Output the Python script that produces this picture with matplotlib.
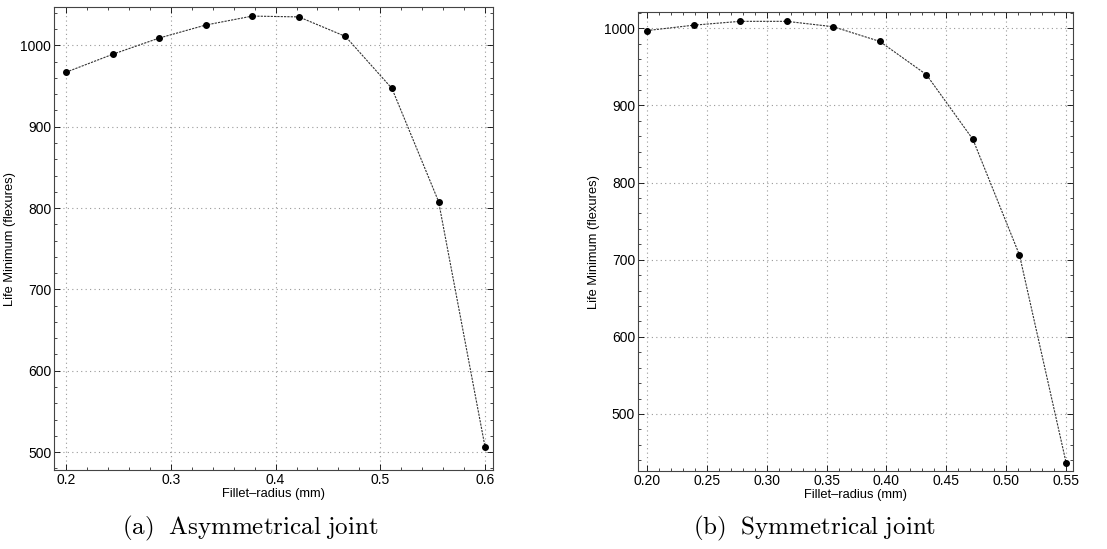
import matplotlib
matplotlib.use("Agg")
import matplotlib.pyplot as plt
from matplotlib.ticker import MultipleLocator, FormatStrFormatter

# Asymmetrical joint
radius_a = [0.2, 0.2444, 0.2889, 0.3333, 0.3778, 0.4222, 0.4667, 0.5111, 0.5556, 0.6]
life_a = [967, 989, 1009, 1025, 1036, 1035, 1011, 947, 808, 506]

# Symmetrical joint
radius_b = [0.2, 0.2389, 0.2778, 0.3167, 0.3556, 0.3944, 0.4333, 0.4722, 0.5111, 0.55]
life_b = [997, 1004, 1009, 1009, 1002, 983, 940, 856, 706, 437]

plt.rcParams['font.family'] = ['Liberation Sans', 'DejaVu Sans']
plt.rcParams['mathtext.fontset'] = 'cm'

fig = plt.figure(figsize=(11.07, 5.49), dpi=100)
ax1 = fig.add_axes([0.0488, 0.1439, 0.3966, 0.8431])
ax2 = fig.add_axes([0.5763, 0.142, 0.393, 0.836])


def style(ax, x, y, xlim, ylim, xmaj, xmin, fmt):
    ax.plot(x, y, color="#333333", lw=0.8, ls=(0, (2, 1)), zorder=3)
    ax.plot(x, y, "o", color="black", ms=4, zorder=4)
    ax.set_xlim(*xlim)
    ax.set_ylim(*ylim)
    ax.xaxis.set_major_locator(MultipleLocator(xmaj))
    ax.xaxis.set_minor_locator(MultipleLocator(xmin))
    ax.xaxis.set_major_formatter(FormatStrFormatter(fmt))
    ax.yaxis.set_major_locator(MultipleLocator(100))
    ax.yaxis.set_minor_locator(MultipleLocator(20))
    ax.grid(True, which="major", color="#999999", ls=(0, (1, 3)), lw=0.8)
    ax.tick_params(which="both", direction="in", top=True, right=True,
                   labelsize=10, pad=2, labelcolor="black")
    ax.tick_params(which="major", length=4, width=0.6)
    ax.tick_params(which="minor", length=2, width=0.5)
    for s in ax.spines.values():
        s.set_linewidth(0.8)
        s.set_color("#444444")
    ax.set_xlabel("Fillet\u2013radius (mm)", fontsize=9.3, labelpad=1)
    ax.set_ylabel("Life Minimum (flexures)", fontsize=9.3, labelpad=3)


style(ax1, radius_a, life_a, (0.1885, 0.6076), (478, 1047), 0.1, 0.02, "%.1f")
style(ax2, radius_b, life_b, (0.1925, 0.5558), (426, 1021), 0.05, 0.01, "%.2f")

fig.text(0.226, 0.038, r"$\mathrm{(a)\ \ Asymmetrical\ joint}$", ha="center",
         va="center", fontsize=18)
fig.text(0.736, 0.038, r"$\mathrm{(b)\ \ Symmetrical\ joint}$", ha="center",
         va="center", fontsize=18)

fig.savefig("out.png", dpi=100)
